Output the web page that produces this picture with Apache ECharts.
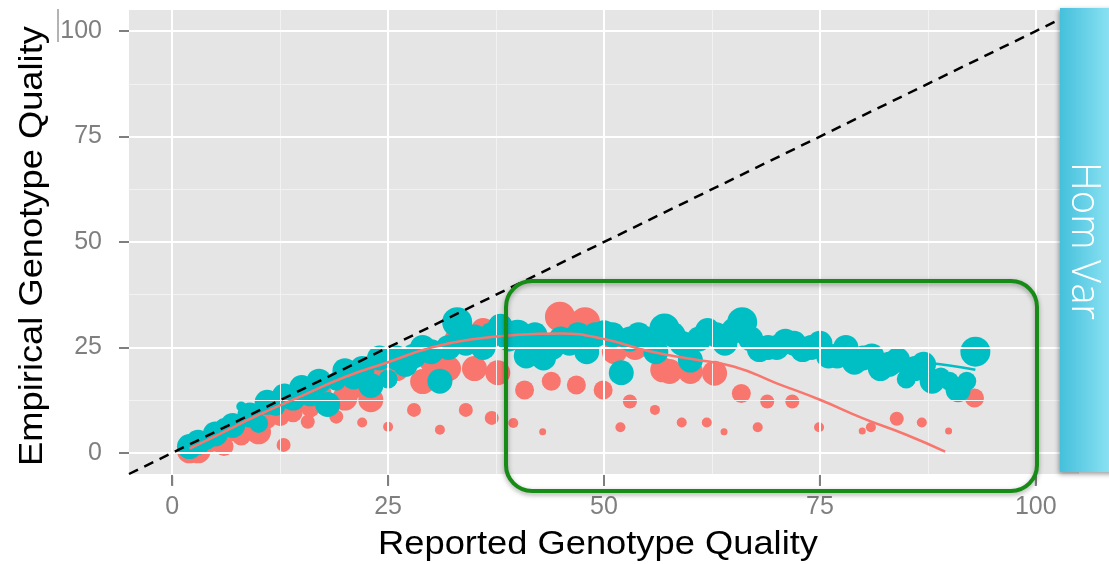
<!DOCTYPE html>
<html><head><meta charset="utf-8">
<script src="https://cdn.jsdelivr.net/npm/echarts@6/dist/echarts.min.js"></script>
<style>html,body{margin:0;padding:0;background:#fff}#c{width:1109px;height:564px}</style>
</head><body><div id="c"></div><script>
// ---- data ----
const axisRange = [-5, 105];
const majorTicks = [0, 25, 50, 75, 100];
const minorTicks = [12.5, 37.5, 62.5, 87.5];
const xTitle = 'Reported Genotype Quality';
const yTitle = 'Empirical Genotype Quality';
const panelLabel = 'Hom Var';

// [reported GQ, empirical GQ, size class]
const redPoints = [
  [2,0.5,5],[3,0.5,5],[4,2,4],[5,2.5,4],[6,1.5,4],[7,5,4],[8,4,4],[9,5.5,4],[10,5,5],
  [11,8,4],[12.9,1.9,3],[12.5,8.6,4],[14,9.5,4],[15,12,4],[15.7,7.4,3],[16,10.7,4],
  [17,14,5],[18,12,4],[19,8.6,3],[20,13,5],[21,15,4],[22,7.2,2],[23,12.6,5],[24,19,4],
  [25,6.2,2],[26,20,5],[28,10.2,3],[29,16.9,5],[30,22,5],[31,5.5,2],[32,20,5],[33,27,5],
  [34,10.2,3],[35,20,5],[36,29,5],[37,8.3,3],[37.7,19,5],[39.5,7.1,2],[40.8,14.9,4],
  [42,27,5],[42.9,5,1],[43.9,17,4],[44.9,32.3,6],[46.8,16.1,4],[47.8,31,6],[49.9,14.9,4],
  [51.2,24,5],[51.9,6.1,2],[53,12.2,3],[53.6,25,5],[55.9,10.2,2],[56.8,19.7,5],
  [57.6,19.3,5],[59,7.2,2],[60,19.3,5],[61.9,7.2,2],[62.8,18.9,5],[63.9,5,1],[65.9,14.1,4],
  [67.8,6.1,2],[68.9,12.2,3],[71.8,12.2,3],[74.9,6.1,2],[79.9,5.2,1],[80.9,6.1,2],
  [83.9,8.1,3],[86.8,7.2,2],[89.9,5.2,1],[92.9,13,4]
];
const tealPoints = [
  [2,1.5,5],[3,2.5,5],[4,3,4],[5,4.5,5],[6,6,4],[7,6.5,5],[8,11,2],[9,9,5],[10,7,4],
  [11,12,5],[12,11,4],[13,13.5,5],[14,13,5],[15,15.5,5],[16,14,5],[17,17,5],[18,11.5,5],
  [19,17,4],[20,19.5,5],[21,18,5],[22,20,5],[23,16,5],[24,22.5,5],[25,17.5,4],[26,22.5,5],
  [27,21,5],[28,23,5],[29,25,5],[30,24,5],[31,17,5],[32,25,5],[33,31,6],[34,26,5],
  [35,27.5,5],[36,25,5],[37,28,5],[38,30,5],[39,27,5],[40,28,6],[41,23,5],[42,28,5],
  [43,22.5,5],[44,25,5],[45,27,5],[46,26,5],[47,28,5],[48,24,5],[49,28,5],[50,28.5,5],
  [51,28,5],[52,19,5],[53,27,5],[54,28,5],[55,27,5],[56,24,5],[57,29.5,6],[58,28,5],
  [59,26,5],[60,22,5],[61,27,5],[62,29,5],[63,28,5],[64,26,5],[65,29,5],[66,31,6],
  [67,27,5],[68,24.5,5],[69,25,5],[70,25,5],[71,26.5,5],[72,26,5],[73,24.5,5],[74,25,5],
  [75,26,5],[76,23,5],[77,23,5],[78,25,5],[79,21.5,5],[80,22.5,5],[81,23,5],[82,20,5],
  [83,21,5],[84,22,5],[85,17.5,4],[86,20,5],[87,21,5],[88,17,5],[89,18,4],[90,17,4],
  [91,15,5],[92,17,4],[93,24,6]
];
const redSmooth = [
  [2,1],[5,4],[10,9],[15,13.5],[20,18],[25,21.5],[30,25],[35,27],[40,28],[45,28.3],
  [50,27],[55,24.2],[60,22.3],[65,20.5],[70,16.5],[75,12.6],[80,8.2],[85,4.3],[89.5,0.3]
];
const tealSmooth = [
  [2,1.5],[5,4.5],[10,9.5],[15,14],[20,18],[25,21.5],[30,24.5],[35,26.5],[40,27.5],
  [45,27.8],[50,27.7],[55,27.5],[60,27],[65,26.5],[70,25.8],[75,25],[80,23.5],[85,22],
  [90,20.7],[93,19.7]
];

// ---- styling ----
const RED = '#F8766D', TEAL = '#00BFC4';
const sizeScale = [0, 7, 10, 14, 19, 25, 30];
const diagonal = [[axisRange[0], axisRange[0]], [axisRange[1], axisRange[1]]];
const FONT = "'Liberation Sans', Arial, Helvetica, sans-serif";

const chart = echarts.init(document.getElementById('c'), null, {renderer: 'canvas'});

function axisCfg(isX) {
  return {
    type: 'value', gridIndex: 0, min: axisRange[0], max: axisRange[1],
    position: isX ? 'bottom' : 'left',
    axisLine: {show: true, onZero: false, lineStyle: {color: 'rgba(0,0,0,0)', width: 0}},
    splitLine: {show: false},
    axisTick: {show: !isX, customValues: majorTicks, length: 10, inside: false,
      lineStyle: {color: '#7f7f7f', width: 2}},
    axisLabel: {show: true, customValues: majorTicks, color: '#7f7f7f', fontSize: 25,
      fontFamily: FONT, margin: isX ? 21 : 27, hideOverlap: false}
  };
}

const gridLines = []
  .concat(minorTicks.map(v => ({xAxis: v, lineStyle: {color: '#F2F2F2', width: 1}})))
  .concat(minorTicks.map(v => ({yAxis: v, lineStyle: {color: '#F2F2F2', width: 1}})))
  .concat(majorTicks.map(v => ({xAxis: v, lineStyle: {color: '#FFFFFF', width: 2}})))
  .concat(majorTicks.map(v => ({yAxis: v, lineStyle: {color: '#FFFFFF', width: 2}})));

const option = {
  animation: false,
  backgroundColor: '#ffffff',
  grid: [
    {left: 129, right: 30, top: 10, bottom: 90, show: true, backgroundColor: '#E5E5E5', borderWidth: 0},
    {left: 129, right: 30, top: 475, height: 10, show: false}
  ],
  xAxis: [
    axisCfg(true),
    {type: 'value', gridIndex: 1, min: axisRange[0], max: axisRange[1], show: false}
  ],
  yAxis: [
    axisCfg(false),
    {type: 'value', gridIndex: 1, min: 0, max: 1, show: false}
  ],
  series: [
    {type: 'scatter', data: [], silent: true, z: 1,
      markLine: {silent: true, symbol: 'none', animation: false, label: {show: false},
        emphasis: {disabled: true}, lineStyle: {type: 'solid'}, data: gridLines}},
    {type: 'scatter', data: [], silent: true, xAxisIndex: 1, yAxisIndex: 1, z: 1,
      markLine: {silent: true, symbol: 'none', animation: false, label: {show: false},
        emphasis: {disabled: true},
        lineStyle: {type: 'solid', color: '#7f7f7f', width: 2},
        data: majorTicks.map(v => ({xAxis: v}))}},
    // x tick marks as small rect symbols hanging below the panel's bottom edge
    {type: 'scatter', silent: true, clip: false, z: 9,
      data: majorTicks.map(v => [v, axisRange[0]]),
      symbol: 'rect', symbolSize: [2, 10], symbolOffset: [0, 7],
      itemStyle: {color: '#7f7f7f', opacity: 1}},
    {type: 'scatter', name: 'red', data: redPoints, z: 2, silent: true,
      symbolSize: v => sizeScale[v[2]], itemStyle: {color: RED, opacity: 1}},
    {type: 'scatter', name: 'teal', data: tealPoints, z: 3, silent: true,
      symbolSize: v => sizeScale[v[2]], itemStyle: {color: TEAL, opacity: 1}},
    {type: 'line', data: tealSmooth, smooth: true, showSymbol: false, z: 4, silent: true,
      lineStyle: {color: TEAL, width: 2.5}},
    {type: 'line', data: redSmooth, smooth: true, showSymbol: false, z: 5, silent: true,
      lineStyle: {color: RED, width: 2.5}},
    {type: 'line', data: diagonal, showSymbol: false, z: 6, silent: true,
      lineStyle: {color: '#000', width: 2.5, type: [10, 7]}}
  ],
  graphic: [
    {type: 'line', shape: {x1: 58, y1: 9, x2: 58, y2: 42}, style: {stroke: '#9a9a9a', lineWidth: 1.5}, z: 10},
    {type: 'text', x: 598, y: 545, scaleX: 1.1, z: 10,
      style: {text: xTitle, fontSize: 33, fontFamily: FONT, fill: '#000', align: 'center', verticalAlign: 'middle'}},
    {type: 'text', x: 33, y: 246, rotation: Math.PI / 2, scaleX: 1.1, z: 10,
      style: {text: yTitle, fontSize: 33, fontFamily: FONT, fill: '#000', align: 'center', verticalAlign: 'middle'}},
    {type: 'rect', shape: {x: 506, y: 281, width: 531, height: 210, r: 26}, z: 20,
      style: {fill: 'none', stroke: '#168c16', lineWidth: 4,
        shadowBlur: 5, shadowColor: 'rgba(0,0,0,0.35)', shadowOffsetY: 2}},
    {type: 'rect', shape: {x: 1060, y: 8, width: 60, height: 464}, z: 20,
      style: {fill: new echarts.graphic.LinearGradient(0, 0, 1, 0, [
        {offset: 0, color: '#45C0DB'}, {offset: 1, color: '#98E8F8'}]),
        shadowBlur: 5, shadowColor: 'rgba(0,0,0,0.4)', shadowOffsetY: 2, shadowOffsetX: -1}},
    {type: 'text', x: 1083, y: 241, rotation: -Math.PI / 2, z: 21,
      style: {text: panelLabel, fontSize: 40, fontWeight: 300, fontFamily: "'Open Sans', 'Liberation Sans', sans-serif",
        fill: '#ffffff', align: 'center', verticalAlign: 'middle'}}
  ]
};
chart.setOption(option);
</script></body></html>
